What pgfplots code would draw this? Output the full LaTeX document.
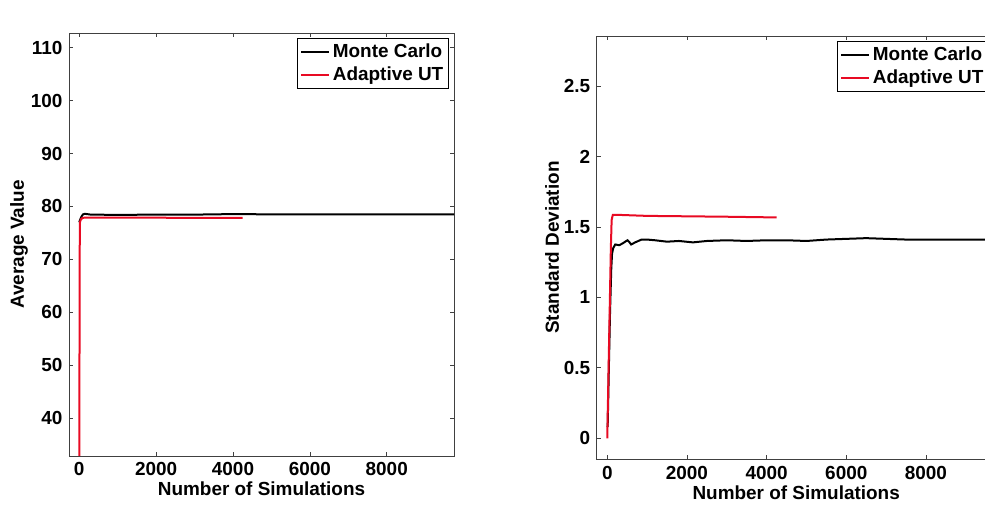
\documentclass[border=0pt]{standalone}
\usepackage{fontspec}
\setmainfont{Liberation Sans}
\usepackage{pgfplots}
\pgfplotsset{compat=1.18}
\definecolor{mred}{RGB}{232,10,35}
\begin{document}
\fontsize{14.2}{17}\selectfont\bfseries
\begin{tikzpicture}
\useasboundingbox (0,0) rectangle (738.75pt,384.75pt);
\pgfplotsset{
  every axis/.append style={
    scale only axis,
    axis line style={black!75, line width=0.5pt},
    tick style={black!75, line width=0.5pt},
    tick align=inside,
    major tick length=3pt,
    font=\fontsize{14.2}{17}\selectfont\bfseries,
    /pgf/number format/assume math mode=true,
    /pgf/number format/set thousands separator={},
    scaled ticks=false,
    xmin=-266, xmax=9750,
    xtick={0,2000,4000,6000,8000},
    xlabel={Number of Simulations},
    legend cell align=left,
    legend style={draw=black, line width=0.5pt, fill=white, inner xsep=2pt, inner ysep=2pt, row sep=1pt,
      font=\fontsize{14.2}{17}\selectfont\bfseries},
    legend image code/.code={\draw[#1] (0pt,0pt) -- (21pt,0pt);},
  },
}
% left panel
\begin{axis}[
  at={(51.75pt,42.75pt)}, anchor=south west,
  width=288.75pt, height=317.25pt,
  ymin=32.8, ymax=112.8,
  ytick={40,50,60,70,80,90,100,110},
  ylabel={Average Value},
  every axis y label/.style={at={(axis description cs:-0.13,0.5)},rotate=90,anchor=center},
  every axis x label/.style={at={(axis description cs:0.5,-0.077)},anchor=center},
  legend style={at={(axis description cs:0.987,0.989)}, anchor=north east},
]
\addplot[black, line width=1.5pt] coordinates {
(0,77.0) (30,77.6) (60,78.1) (100,78.5) (150,78.6) (300,78.45) (1000,78.4) (2000,78.45)
(3000,78.45) (4000,78.55) (5000,78.5) (7000,78.5) (10000,78.5)};
\addlegendentry{Monte Carlo}
\addplot[mred, line width=1.5pt] coordinates {
(1,32.8) (15,76.9) (40,77.5) (80,77.8) (150,77.9) (1000,77.9) (2500,77.85) (4250,77.85)};
\addlegendentry{Adaptive UT}
\end{axis}
% right panel
\begin{axis}[
  at={(447.5pt,40.3pt)}, anchor=south west,
  width=299.25pt, height=317.5pt,
  ymin=-0.149, ymax=2.855,
  ytick={0,0.5,1,1.5,2,2.5},
  ylabel={Standard Deviation},
  every axis y label/.style={at={(axis description cs:-0.112,0.5)},rotate=90,anchor=center},
  every axis x label/.style={at={(axis description cs:0.5,-0.08)},anchor=center},
  legend style={at={(axis description cs:0.603,0.988)}, anchor=north west},
]
\addplot[black, line width=1.5pt] coordinates {
(10,0.08) (40,0.5) (70,0.9) (100,1.2) (120,1.31) (150,1.35) (200,1.375) (300,1.37)
(400,1.385) (450,1.395) (510,1.405) (560,1.39) (600,1.375) (700,1.39) (860,1.41)
(1000,1.41) (1200,1.405) (1500,1.395) (1800,1.40) (2150,1.39) (2500,1.40) (3000,1.405)
(3500,1.40) (4000,1.405) (4500,1.405) (5000,1.40) (5500,1.41) (6000,1.415) (6500,1.42)
(7000,1.415) (7500,1.41) (8000,1.41) (9000,1.41) (10000,1.41)};
\addlegendentry{Monte Carlo}
\addplot[mred, line width=1.5pt] coordinates {
(0,0) (30,0.45) (60,0.9) (90,1.35) (110,1.55) (140,1.585) (300,1.585) (1000,1.578)
(2000,1.575) (3000,1.572) (4250,1.567)};
\addlegendentry{Adaptive UT}
\end{axis}
\end{tikzpicture}
\end{document}
